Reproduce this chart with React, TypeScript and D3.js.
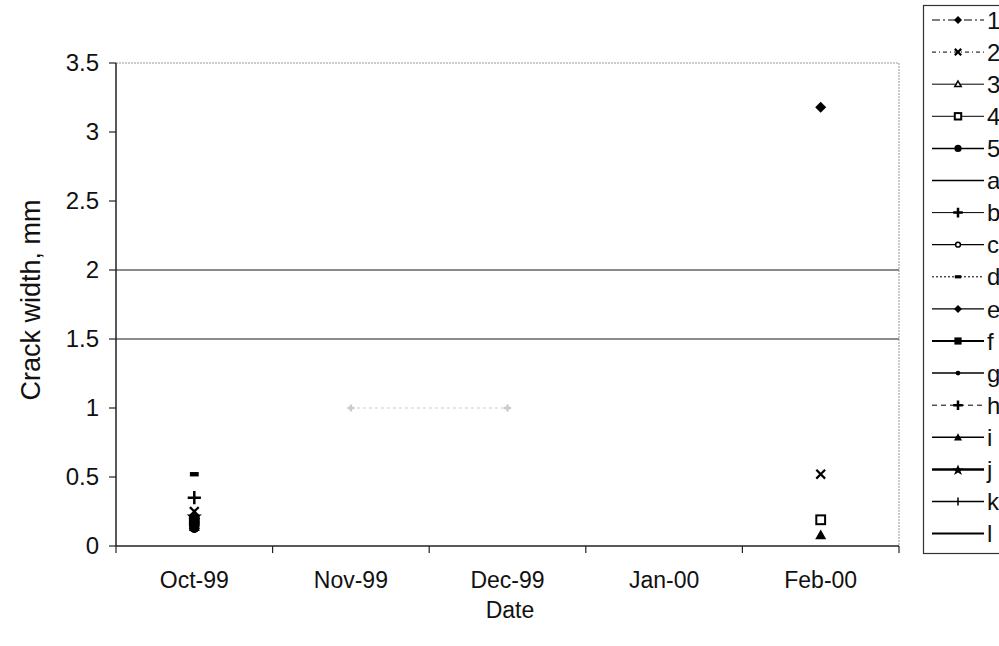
import React from "react";
import * as d3 from "d3";

const months = ["Oct-99", "Nov-99", "Dec-99", "Jan-00", "Feb-00"];
const yTicks = [0, 0.5, 1, 1.5, 2, 2.5, 3, 3.5];
const limitValues = [2, 1.5];

type Mk = "diamond" | "x" | "triOpen" | "sqOpen" | "circle" | "none" | "plus" | "circOpen" | "dash" | "sqFill" | "dot" | "triFill" | "star" | "tick";

const seriesNames = ["1", "2", "3", "4", "5", "a", "b", "c", "d", "e", "f", "g", "h", "i", "j", "k", "l"];
const seriesMarkers: Mk[] = ["diamond", "x", "triOpen", "sqOpen", "circle", "none", "plus", "circOpen", "dash", "diamond", "sqFill", "dot", "plus", "triFill", "star", "tick", "none"];
const seriesDash = ["8,3,2,3", "4,3,1,3", "", "", "", "", "", "", "2,2", "", "", "", "5,4", "", "", "", ""];
const seriesWidth = [1, 1, 1, 1, 1.5, 1.3, 1, 1.3, 1, 1.3, 2, 1.5, 1, 1.5, 2.5, 1.5, 2];

const s1 = [0.2, null, null, null, 3.18];
const s2 = [0.25, null, null, null, 0.52];
const s3 = [0.15, null, null, null, null];
const s4 = [0.18, null, null, null, 0.19];
const s5 = [0.13, null, null, null, null];
const sa = [0, null, null, null, null];
const sb = [null, 1, 1, null, null];
const sc = [0.14, null, null, null, null];
const sd = [0.52, null, null, null, null];
const se = [0.2, null, null, null, null];
const sf = [0.16, null, null, null, null];
const sg = [0.12, null, null, null, null];
const sh = [0.35, null, null, null, null];
const si = [0.14, null, null, null, 0.08];
const sj = [0.22, null, null, null, null];
const sk = [0.17, null, null, null, null];
const sl = [0, null, null, null, null];
const seriesValues: (number | null)[][] = [s1, s2, s3, s4, s5, sa, sb, sc, sd, se, sf, sg, sh, si, sj, sk, sl];

const W = 999, H = 646;
const L = 116, R = 899, T = 63, B = 546;
const FONT = "'Liberation Sans', Arial, sans-serif";

function Marker({ type, x, y, s = 1, color = "#000" }: { type: Mk; x: number; y: number; s?: number; color?: string }) {
  const k = s;
  switch (type) {
    case "diamond":
      return <path d={`M${x},${y - 5 * k}L${x + 5 * k},${y}L${x},${y + 5 * k}L${x - 5 * k},${y}Z`} fill={color} />;
    case "x":
      return <path d={`M${x - 4 * k},${y - 4 * k}L${x + 4 * k},${y + 4 * k}M${x - 4 * k},${y + 4 * k}L${x + 4 * k},${y - 4 * k}`} stroke={color} strokeWidth={2.2} />;
    case "triOpen":
      return <path d={`M${x},${y - 4 * k}L${x + 4 * k},${y + 3 * k}L${x - 4 * k},${y + 3 * k}Z`} fill="#fff" stroke={color} strokeWidth={1.5} />;
    case "sqOpen":
      return <rect x={x - 4 * k} y={y - 4 * k} width={8 * k} height={8 * k} fill="#fff" stroke={color} strokeWidth={2} />;
    case "circle":
      return <circle cx={x} cy={y} r={4.5 * k} fill={color} />;
    case "plus":
      return <path d={`M${x - 6 * k},${y}L${x + 6 * k},${y}M${x},${y - 6 * k}L${x},${y + 6 * k}`} stroke={color} strokeWidth={2.5} />;
    case "circOpen":
      return <circle cx={x} cy={y} r={3 * k} fill="#fff" stroke={color} strokeWidth={1.5} />;
    case "dash":
      return <rect x={x - 4 * k} y={y - 2 * k} width={8 * k} height={4 * k} fill={color} />;
    case "sqFill":
      return <rect x={x - 4.5 * k} y={y - 4.5 * k} width={9 * k} height={9 * k} fill={color} />;
    case "dot":
      return <circle cx={x} cy={y} r={3 * k} fill={color} />;
    case "triFill":
      return <path d={`M${x},${y - 5 * k}L${x + 5 * k},${y + 4 * k}L${x - 5 * k},${y + 4 * k}Z`} fill={color} />;
    case "star":
      return <path d={`M${x},${y - 6 * k}L${x + 2 * k},${y - 1 * k}L${x + 7 * k},${y - 1 * k}L${x + 3 * k},${y + 2 * k}L${x + 5 * k},${y + 7 * k}L${x},${y + 4 * k}L${x - 5 * k},${y + 7 * k}L${x - 3 * k},${y + 2 * k}L${x - 7 * k},${y - 1 * k}L${x - 2 * k},${y - 1 * k}Z`} fill={color} />;
    case "tick":
      return <path d={`M${x},${y - 5 * k}L${x},${y + 5 * k}`} stroke={color} strokeWidth={1.5} />;
    default:
      return null;
  }
}

export default function App() {
  const x = d3.scaleBand<string>().domain(months).range([L, R]).padding(0);
  const y = d3.scaleLinear().domain([0, 3.5]).range([B, T]);
  const cx = (m: string) => (x(m) ?? 0) + x.bandwidth() / 2;

  const line = d3
    .line<number | null>()
    .defined((d) => d !== null)
    .x((_, i) => cx(months[i]))
    .y((d) => y(d as number));

  const legendTop = 20;
  const legendStep = 32.1;

  return (
    <svg width={W} height={H} style={{ position: "absolute", left: 0, top: 0, background: "#fff" }} fontFamily={FONT}>
      <rect x={0} y={0} width={W} height={H} fill="#fff" />
      {/* top and right plot border (dotted grey) */}
      <line x1={L} x2={R} y1={y(3.5)} y2={y(3.5)} stroke="#999" strokeWidth={1.2} strokeDasharray="2,1" />
      <line x1={R} x2={R} y1={y(3.5)} y2={B} stroke="#aaa" strokeWidth={1.2} strokeDasharray="2,1" />

      {/* limit lines */}
      {limitValues.map((v) => (
        <line key={v} x1={L} x2={R} y1={y(v)} y2={y(v)} stroke="#666" strokeWidth={1.6} />
      ))}

      {/* series lines */}
      {seriesValues.map((vals, i) => (
        <path
          key={"l" + i}
          d={line(vals) ?? ""}
          fill="none"
          stroke={seriesNames[i] === "b" ? "#ccc" : "#000"}
          strokeWidth={seriesWidth[i]}
          strokeDasharray={seriesNames[i] === "b" ? "3,3" : seriesDash[i] || undefined}
        />
      ))}
      {/* series markers */}
      {seriesValues.map((vals, i) =>
        vals.map((v, j) =>
          v === null ? null : (
            <Marker key={"m" + i + "-" + j} type={seriesMarkers[i]} x={cx(months[j])} y={y(v)} color={seriesNames[i] === "b" ? "#ccc" : "#000"} s={seriesNames[i] === "b" ? 0.6 : 1.1} />
          )
        )
      )}

      {/* axes */}
      <line x1={L} x2={L} y1={y(3.5)} y2={B} stroke="#222" strokeWidth={1.5} />
      <line x1={L} x2={R} y1={B} y2={B} stroke="#222" strokeWidth={1.5} />
      {yTicks.map((t) => (
        <g key={"yt" + t}>
          <line x1={L - 7} x2={L} y1={y(t)} y2={y(t)} stroke="#222" strokeWidth={1.2} />
          <text x={99} y={y(t)} dy="0.35em" textAnchor="end" fontSize={24} fill="#111">
            {t}
          </text>
        </g>
      ))}
      {[...months.map((m) => x(m) ?? 0), R].map((px, i) => (
        <line key={"xt" + i} x1={px} x2={px} y1={B} y2={B + 7} stroke="#222" strokeWidth={1.2} />
      ))}
      {months.map((m) => (
        <text key={"xl" + m} x={cx(m)} y={588} textAnchor="middle" fontSize={23} fill="#111">
          {m}
        </text>
      ))}
      <text x={510} y={618} textAnchor="middle" fontSize={23} fill="#111">
        Date
      </text>
      <text transform="translate(40,300) rotate(-90)" textAnchor="middle" fontSize={27} fill="#111">
        Crack width, mm
      </text>

      {/* legend */}
      <rect x={923.5} y={5.5} width={100} height={548} fill="#fff" stroke="#333" strokeWidth={1.2} />
      {seriesNames.map((n, i) => {
        const ly = legendTop + i * legendStep;
        return (
          <g key={"lg" + n}>
            <line x1={932} x2={984} y1={ly} y2={ly} stroke="#000" strokeWidth={seriesWidth[i]} strokeDasharray={seriesDash[i] || undefined} />
            <Marker type={seriesMarkers[i]} x={958} y={ly} s={0.8} />
            <text x={987} y={ly} dy="0.36em" fontSize={24} fill="#111">
              {n}
            </text>
          </g>
        );
      })}
    </svg>
  );
}
